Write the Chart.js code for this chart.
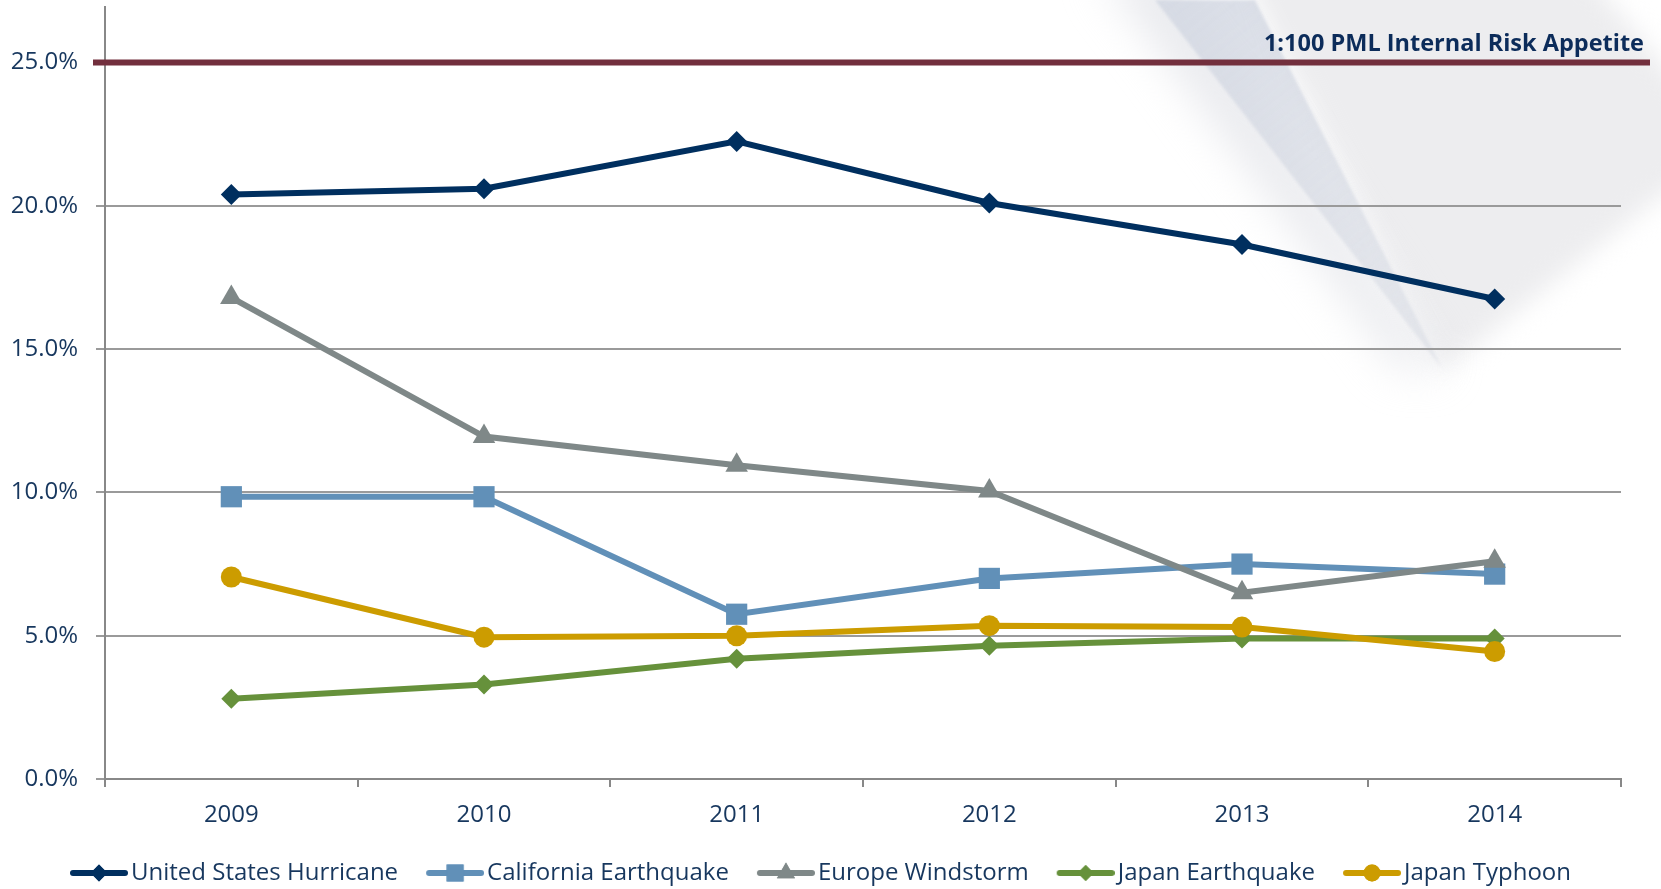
<!DOCTYPE html>
<html>
<head>
<meta charset="utf-8">
<script src="https://cdn.jsdelivr.net/npm/chart.js@4.4.1/dist/chart.umd.min.js"></script>
<style>
  html, body { margin: 0; padding: 0; background: #fff; }
  #wrap { width: 1661px; height: 889px; }
</style>
</head>
<body>
<div id="wrap"><canvas id="grafico-pml"></canvas></div>
<script>
const years = ["2009", "2010", "2011", "2012", "2013", "2014"];
const usHurricane = [20.4, 20.6, 22.25, 20.1, 18.65, 16.75];
const californiaEarthquake = [9.85, 9.85, 5.75, 7.0, 7.5, 7.15];
const europeWindstorm = [16.8, 11.95, 10.95, 10.05, 6.5, 7.6];
const japanEarthquake = [2.8, 3.3, 4.2, 4.65, 4.9, 4.9];
const japanTyphoon = [7.05, 4.95, 5.0, 5.35, 5.3, 4.45];
const yTicks = [0, 5, 10, 15, 20, 25];
const riskAppetite = 25;
const riskLabel = "1:100 PML Internal Risk Appetite";

const navy = "#17375e";

const series = [
  { label: "United States Hurricane", data: usHurricane, color: "#002f5f", style: "rectRot", radius: 10.5 },
  { label: "California Earthquake", data: californiaEarthquake, color: "#6190b8", style: "rect", radius: 15 },
  { label: "Europe Windstorm", data: europeWindstorm, color: "#7f8888", style: "triangle", radius: 13 },
  { label: "Japan Earthquake", data: japanEarthquake, color: "#66913b", style: "rectRot", radius: 10 },
  { label: "Japan Typhoon", data: japanTyphoon, color: "#cc9c00", style: "circle", radius: 10.5 }
];

// legend icon: a short line with the marker in the middle (left 19px kept empty as item gap)
function legendIcon(s) {
  const c = document.createElement("canvas");
  c.width = 77; c.height = 26;
  const ctx = c.getContext("2d");
  ctx.strokeStyle = s.color;
  ctx.fillStyle = s.color;
  ctx.lineWidth = 6;
  ctx.lineCap = "round";
  ctx.beginPath();
  ctx.moveTo(22, 13);
  ctx.lineTo(74, 13);
  ctx.stroke();
  Chart.helpers.drawPoint(ctx, { pointStyle: s.style, radius: s.radius * 0.8, borderWidth: 0 }, 48, 13);
  ctx.fill();
  return c;
}

function poly(ctx, pts) {
  ctx.beginPath();
  pts.forEach((p, i) => i ? ctx.lineTo(p[0], p[1]) : ctx.moveTo(p[0], p[1]));
  ctx.closePath();
  ctx.fill();
}

// decorative swoosh in the top right corner
const backdrop = {
  id: "backdrop",
  beforeDraw(chart) {
    const ctx = chart.ctx;
    ctx.save();
    ctx.filter = "blur(12px)";
    ctx.fillStyle = "rgba(237,237,239,1)";
    poly(ctx, [[1240, -30], [1585, -30], [1700, 110], [1700, 165], [1442, 372]]);
    ctx.filter = "blur(22px)";
    ctx.fillStyle = "rgba(226,228,233,0.8)";
    poly(ctx, [[1100, -30], [1170, -30], [1442, 368], [1400, 368]]);
    ctx.filter = "blur(1.5px)";
    const g = ctx.createLinearGradient(1160, 0, 1440, 368);
    g.addColorStop(0, "rgba(210,215,226,0.85)");
    g.addColorStop(1, "rgba(220,223,230,0.65)");
    ctx.fillStyle = g;
    poly(ctx, [[1155, 0], [1255, 0], [1442, 368]]);
    ctx.restore();
  }
};

// risk appetite line and its label
const riskLine = {
  id: "riskLine",
  afterDatasetsDraw(chart) {
    const { ctx, chartArea, scales } = chart;
    const y = scales.y.getPixelForValue(riskAppetite);
    ctx.save();
    ctx.strokeStyle = "#722f3d";
    ctx.lineWidth = 6;
    ctx.beginPath();
    ctx.moveTo(chartArea.left - 12, y);
    ctx.lineTo(chartArea.right + 29, y);
    ctx.stroke();
    ctx.fillStyle = "#0c2c5a";
    ctx.font = "bold 23.5px 'Open Sans'";
    ctx.textAlign = "right";
    ctx.textBaseline = "alphabetic";
    ctx.fillText(riskLabel, chartArea.right + 23, y - 12);
    ctx.restore();
  }
};

new Chart(document.getElementById("grafico-pml"), {
  type: "line",
  data: {
    labels: years,
    datasets: series.map((s, i) => ({
      label: s.label,
      data: s.data,
      borderColor: s.color,
      backgroundColor: s.color,
      borderWidth: 6,
      pointStyle: s.style,
      pointRadius: s.radius,
      pointBorderWidth: 0,
      tension: 0,
      clip: false,
      order: series.length - i
    }))
  },
  options: {
    responsive: true,
    maintainAspectRatio: false,
    animation: false,
    layout: { autoPadding: false, padding: { left: 10, right: 40, top: 7, bottom: -6 } },
    scales: {
      x: {
        offset: true,
        border: { color: "#888", width: 2 },
        grid: { display: true, drawOnChartArea: false, offset: true, tickLength: 8, color: "#888", lineWidth: 2 },
        ticks: { color: navy, font: { family: "'Open Sans'", size: 24, lineHeight: 1 }, padding: 16 }
      },
      y: {
        min: 0,
        max: 26.94,
        border: { color: "#888", width: 2 },
        grid: { color: "#9a9a9a", lineWidth: 2, tickLength: 9 },
        afterBuildTicks: scale => {
          scale.ticks = yTicks.map(v => ({ value: v }));
        },
        afterFit: scale => {
          scale.width = 95;
          scale.paddingTop = 0;
        },
        ticks: {
          color: navy,
          padding: 18,
          font: { family: "'Open Sans'", size: 24, lineHeight: 0.3 },
          callback: v => v.toFixed(1) + "%"
        }
      }
    },
    plugins: {
      legend: {
        position: "bottom",
        labels: {
          color: navy,
          font: { family: "'Open Sans'", size: 24 },
          usePointStyle: true,
          pointStyleWidth: 59,
          padding: 18,
          generateLabels: chart => chart.data.datasets.map((d, i) => ({
            text: d.label,
            pointStyle: legendIcon(series[i]),
            fillStyle: d.borderColor,
            strokeStyle: d.borderColor,
            lineWidth: 0,
            fontColor: navy,
            datasetIndex: i,
            hidden: false
          }))
        }
      },
      tooltip: { enabled: false }
    }
  },
  plugins: [backdrop, riskLine]
});
</script>
</body>
</html>
